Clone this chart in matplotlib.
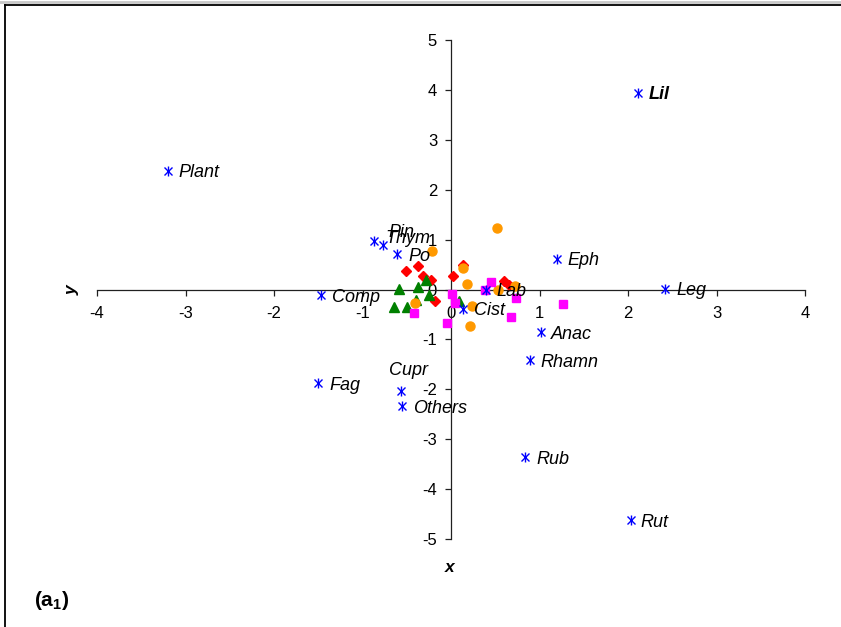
import matplotlib
matplotlib.use("Agg")
import matplotlib.pyplot as plt
from matplotlib.lines import Line2D

plt.rcParams['font.family'] = ['Liberation Sans', 'DejaVu Sans']
plt.rcParams['mathtext.fontset'] = 'custom'
plt.rcParams['mathtext.rm'] = 'Liberation Sans'
plt.rcParams['mathtext.bf'] = 'Liberation Sans:bold'
plt.rcParams['mathtext.it'] = 'Liberation Sans:italic'

# ---- data ----
fam_names = ["Lil", "Plant", "Pin", "Thym", "Po", "Eph", "Leg", "Comp", "Lab",
             "Cist", "Anac", "Rhamn", "Fag", "Cupr", "Others", "Rub", "Rut"]
fam_x = [2.11, -3.20, -0.87, -0.77, -0.61, 1.20, 2.42, -1.47, 0.39,
         0.13, 1.02, 0.89, -1.50, -0.56, -0.55, 0.84, 2.03]
fam_y = [3.94, 2.38, 0.98, 0.90, 0.71, 0.62, 0.02, -0.12, -0.01,
         -0.39, -0.86, -1.42, -1.88, -2.04, -2.34, -3.36, -4.62]

orange_x = [0.52, -0.22, 0.14, 0.18, -0.41, 0.24, 0.53, 0.72, 0.22]
orange_y = [1.23, 0.78, 0.44, 0.12, -0.28, -0.34, 0.00, 0.08, -0.74]

red_x = [-0.51, -0.37, -0.32, -0.23, -0.18, 0.02, 0.14, 0.60, 0.66]
red_y = [0.38, 0.47, 0.27, 0.19, -0.23, 0.27, 0.50, 0.17, 0.10]

green_x = [-0.59, -0.37, -0.28, -0.64, -0.50, -0.39, -0.25, 0.09]
green_y = [0.01, 0.05, 0.20, -0.35, -0.35, -0.22, -0.12, -0.24]

magenta_x = [0.45, 0.38, 0.01, 0.05, 0.73, 0.68, 1.27, -0.04, -0.42]
magenta_y = [0.15, 0.00, -0.09, -0.28, -0.17, -0.55, -0.29, -0.67, -0.47]

x_ticks = [-4, -3, -2, -1, 0, 1, 2, 3, 4]
y_ticks = [-5, -4, -3, -2, -1, 0, 1, 2, 3, 4, 5]

# label offsets in pixels (dx, dy)
label_offsets = {
    "Lil": (11, -2), "Plant": (11, -2), "Pin": (14, 8), "Thym": (3, 6),
    "Po": (11, -2), "Eph": (10, -2), "Leg": (11, -2), "Comp": (11, -2),
    "Lab": (11, -2), "Cist": (11, -2), "Anac": (10, -2), "Rhamn": (11, -2),
    "Fag": (11, -2), "Cupr": (-12, 21), "Others": (11, -2), "Rub": (11, -2),
    "Rut": (10, -2),
}

W, H = 841, 627
fig = plt.figure(figsize=(W / 100, H / 100), dpi=100)
ax = fig.add_axes([97 / W, (H - 539) / H, 708 / W, 499 / H])
ax.set_xlim(-4, 4)
ax.set_ylim(-5, 5)

for s in ["top", "right"]:
    ax.spines[s].set_visible(False)
ax.spines["left"].set_position(("data", 0))
ax.spines["bottom"].set_position(("data", 0))
for s in ["left", "bottom"]:
    ax.spines[s].set_color("#202020")
    ax.spines[s].set_linewidth(0.9)
ax.set_xticks(x_ticks)
ax.set_yticks(y_ticks)
ax.set_xticklabels([str(v) for v in x_ticks])
ax.set_yticklabels([str(v) for v in y_ticks])
ax.tick_params(axis="both", direction="out", length=4, width=0.9,
               labelsize=12, colors="#202020", labelcolor="black")
ax.tick_params(axis="x", pad=8)
ax.tick_params(axis="y", pad=6)
ax.patch.set_alpha(0)

ax.plot(red_x, red_y, linestyle="none", marker="D", ms=5, color="#FF0000",
        mec="#FF0000", zorder=3)
ax.plot(green_x, green_y, linestyle="none", marker="^", ms=6.5, color="#008000",
        mec="#008000", zorder=3)
ax.plot(orange_x, orange_y, linestyle="none", marker="o", ms=6.5, color="#FF9900",
        mec="#FF9900", zorder=4)
ax.plot(magenta_x, magenta_y, linestyle="none", marker="s", ms=6, color="#FF00FF",
        mec="#FF00FF", zorder=5)
ax.plot(fam_x, fam_y, linestyle="none", marker="x", ms=5.5, mew=1.0,
        color="#0000FF", zorder=6)
ax.plot(fam_x, fam_y, linestyle="none", marker="|", ms=6.5, mew=1.0,
        color="#0000FF", zorder=6)

for name, xv, yv in zip(fam_names, fam_x, fam_y):
    dx, dy = label_offsets[name]
    ax.annotate(name, (xv, yv), xytext=(dx, dy), textcoords="offset pixels",
                fontsize=13, style="italic",
                fontweight="bold" if name == "Lil" else "normal",
                ha="left", va="center", zorder=7)

fig.text(450 / W, 1 - 568 / H, "x", fontsize=12.5, style="italic",
         fontweight="bold", ha="center", va="center")
fig.text(72 / W, 1 - 290 / H, "y", fontsize=12.5, style="italic",
         fontweight="bold", ha="center", va="center", rotation=90)
fig.text(34 / W, 1 - 600 / H, r"$\mathbf{(a_1)}$", fontsize=15,
         ha="left", va="center")

# outer frame (left and top borders), light gray line at very top
fig.add_artist(Line2D([0, 1], [1 - 1.5 / H, 1 - 1.5 / H], color="#c8c8c8",
                      lw=2, transform=fig.transFigure))
fig.add_artist(Line2D([5 / W, 1], [1 - 4.5 / H, 1 - 4.5 / H], color="black",
                      lw=1.3, transform=fig.transFigure))
fig.add_artist(Line2D([5 / W, 5 / W], [0, 1 - 4.5 / H], color="black",
                      lw=1.3, transform=fig.transFigure))

fig.savefig("out.png", dpi=100)
